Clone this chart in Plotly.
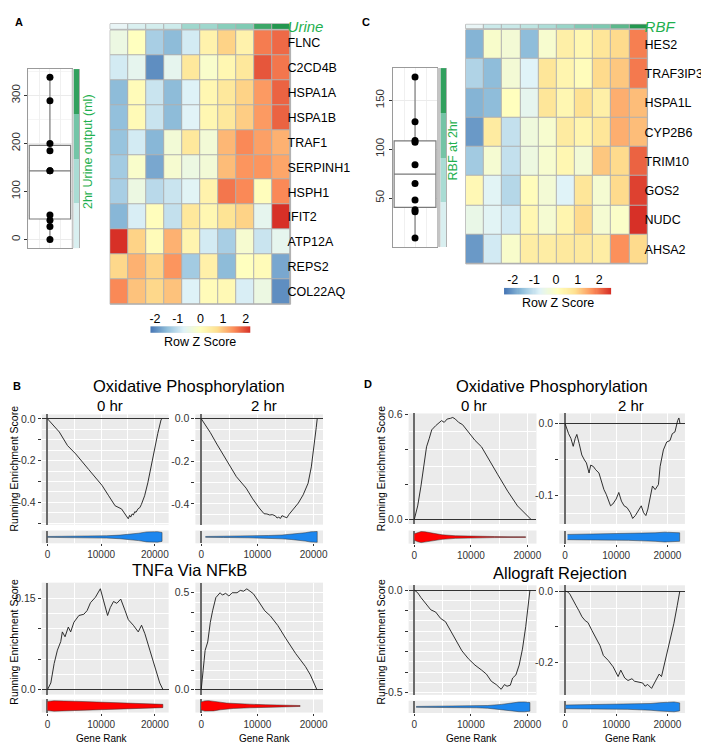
import numpy as np
import plotly.graph_objects as go

W, H = 709, 743
FONT = "Liberation Sans, Arial, sans-serif"

# ---- A: urine heatmap (rows = genes, cols = samples sorted by urine output) ----
genes_a = ["FLNC", "C2CD4B", "HSPA1A", "HSPA1B", "TRAF1", "SERPINH1",
           "HSPH1", "IFIT2", "ATP12A", "REPS2", "COL22AQ"]
z_a = [
    [-0.45, 0.0, -1.25, -1.5, -0.85, 0.3, 0.85, 0.3, 1.6, 1.75],
    [-0.85, -0.6, -1.95, -0.6, 0.55, -0.15, 0.2, 0.55, 1.9, 1.65],
    [-1.5, 0.1, -0.95, -1.5, -0.75, 0.2, 0.55, 0.85, 1.35, 1.8],
    [-1.45, 0.12, -0.95, -1.5, -0.72, 0.2, 0.55, 0.9, 1.35, 1.8],
    [-1.4, -0.85, -1.55, -0.3, 0.55, -0.3, 1.1, 1.5, 1.3, 1.15],
    [-1.3, -0.15, -1.7, -0.22, -0.45, -0.3, 1.05, 1.4, 1.4, 1.25],
    [-1.25, -0.45, -1.1, -0.95, -0.7, 0.3, 1.65, 1.5, 0.05, 1.5],
    [-1.55, -0.8, 0.05, -1.0, 0.55, 0.2, 0.65, 0.85, -0.6, 2.2],
    [2.2, 0.85, 0.1, 1.15, 0.25, -0.85, -1.25, -0.22, -0.95, -0.6],
    [0.8, 1.15, 0.85, 1.4, -1.3, 0.35, -1.5, 0.0, 0.1, -1.7],
    [1.5, 1.0, 0.8, 1.0, -0.75, 0.1, 0.15, -0.8, -0.45, -1.95],
]
urine_ml = [0, 27, 40, 51, 143, 143, 185, 200, 289, 338]
urine_ticks = [0, 100, 200, 300]

# ---- C: RBF heatmap ----
genes_c = ["HES2", "TRAF3IP3", "HSPA1L", "CYP2B6", "TRIM10", "GOS2", "NUDC", "AHSA2"]
z_c = [
    [-1.7, -0.1, -0.25, -1.6, -0.15, 0.5, 0.3, 0.75, 0.95, 1.85],
    [-1.25, -1.6, -0.25, -0.75, 0.75, 0.35, 0.15, 0.95, 1.15, 1.9],
    [-1.7, -1.6, 0.1, -0.6, 0.75, 0.3, 0.85, 0.5, 1.4, 1.25],
    [-2.0, 0.6, -1.05, -0.35, -0.15, 0.6, 0.35, 0.75, 1.4, 1.25],
    [-1.4, -0.2, -1.05, -0.4, -0.15, 0.3, -0.25, 1.15, 0.95, 2.1],
    [0.25, -0.7, -1.2, 0.15, -0.25, -0.75, 0.75, -0.2, 0.95, 2.4],
    [-0.5, -0.7, -0.9, 0.3, -0.2, 0.35, 0.95, -0.2, -0.05, 2.55],
    [-2.0, -0.9, -0.1, 0.55, 0.55, 0.65, 0.65, 0.55, 1.7, 0.95],
]
rbf = [9, 36, 38, 48, 65, 84, 107, 109, 128, 174]
rbf_ticks = [50, 100, 150]
zscore_ticks = [-2, -1, 0, 1, 2]
zscore_labels = ["-2", "-1", "0", "1", "2"]

# ---- B: GSEA running enrichment scores ----
b_ox0_rank = [0, 2200, 3730, 5260, 7700, 10150, 11400, 12600, 13800, 14400, 14700, 15050, 15300, 15500,
              15780, 16000, 16270, 16500, 16880, 17200, 17490, 18100, 18700, 19330, 19940, 20550, 21160, 21350]
b_ox0_es = [0, -0.063, -0.128, -0.168, -0.243, -0.318, -0.368, -0.416, -0.431, -0.455, -0.47, -0.478, -0.462, -0.47,
            -0.455, -0.46, -0.444, -0.447, -0.43, -0.425, -0.41, -0.368, -0.306, -0.227, -0.133, -0.07, -0.005, 0]
b_ox2_rank = [0, 1620, 2780, 4520, 6260, 8000, 9160, 10320, 11190, 11700, 12200, 12640, 13200, 13500,
              13800, 14100, 14380, 14800, 15250, 15600, 16120, 17280, 18150, 19020, 19600, 20180, 20470, 20650]
b_ox2_es = [0, -0.065, -0.119, -0.199, -0.272, -0.326, -0.376, -0.419, -0.446, -0.447, -0.452, -0.45, -0.456, -0.466,
            -0.462, -0.468, -0.455, -0.46, -0.465, -0.45, -0.434, -0.396, -0.357, -0.303, -0.226, -0.119, -0.042, 0]
b_tnf0_rank = [0, 620, 1240, 1850, 2470, 2770, 3270, 3880, 4320, 4930, 5850, 6770, 7380, 8010, 8930, 9850,
               10460, 11200, 11700, 12300, 12920, 13650, 14460, 15070, 15990, 16910, 17530, 18150, 19070, 20000, 20920, 21530]
b_tnf0_es = [0, 0.011, 0.043, 0.065, 0.079, 0.095, 0.087, 0.103, 0.095, 0.111, 0.122, 0.124, 0.130, 0.143, 0.152, 0.166,
             0.146, 0.122, 0.135, 0.145, 0.142, 0.149, 0.130, 0.115, 0.106, 0.095, 0.106, 0.092, 0.065, 0.038, 0.011, 0]
b_tnf2_rank = [0, 290, 700, 1160, 1620, 2030, 2610, 3360, 3770, 4350, 4930, 5510, 6380, 6960, 7540, 8120,
               8700, 9280, 10150, 11310, 12300, 13630, 15080, 16820, 18560, 19430, 20590]
b_tnf2_es = [0, 0.102, 0.203, 0.246, 0.347, 0.407, 0.475, 0.5, 0.488, 0.497, 0.483, 0.5, 0.5, 0.512, 0.508, 0.52,
             0.505, 0.495, 0.458, 0.407, 0.381, 0.331, 0.263, 0.186, 0.119, 0.076, 0]

# ---- D: GSEA running enrichment scores ----
d_ox0_rank = [0, 580, 1160, 1740, 2150, 2610, 3070, 3770, 4350, 4810, 5280, 5800, 6380, 6790, 7250, 7830,
              8530, 9570, 10730, 11890, 13050, 14790, 16530, 18270, 20590]
d_ox0_es = [0, 0.075, 0.188, 0.309, 0.413, 0.459, 0.51, 0.534, 0.553, 0.563, 0.553, 0.572, 0.576, 0.581, 0.572, 0.553,
            0.54, 0.497, 0.45, 0.413, 0.347, 0.253, 0.159, 0.075, 0]
d_ox2_rank = [0, 390, 710, 1160, 1610, 2000, 2320, 2770, 3290, 3810, 4190, 4710, 5030, 5550, 6000, 6640,
              7160, 7610, 8060, 8580, 8900, 9350, 10000, 10510, 11030, 11550, 12130, 12770, 13220, 13740,
              14380, 14900, 15350, 15800, 16190, 16640, 17090, 17610, 18250, 18580, 19220, 19870, 20510,
              20960, 21480, 22000, 22250, 22450]
d_ox2_es = [0, -0.010, -0.0145, -0.021, -0.032, -0.021, -0.0155, -0.028, -0.044, -0.051, -0.055, -0.069, -0.058,
            -0.060, -0.0645, -0.069, -0.083, -0.092, -0.0985, -0.110, -0.1145, -0.112, -0.105, -0.096, -0.108,
            -0.1145, -0.117, -0.124, -0.132, -0.128, -0.121, -0.1145, -0.124, -0.128, -0.119, -0.105, -0.087,
            -0.092, -0.085, -0.060, -0.037, -0.026, -0.024, -0.0145, -0.012, 0.0036, 0.0073, 0]
d_allo0_rank = [0, 580, 1160, 2030, 2900, 3770, 4640, 5510, 6380, 7250, 8410, 9570, 10730, 11890, 12760, 13630,
                14500, 15370, 15950, 16410, 16990, 17400, 17980, 18560, 19140, 19720, 20130, 20470]
d_allo0_es = [0, -0.0126, -0.036, -0.068, -0.096, -0.107, -0.138, -0.154, -0.197, -0.241, -0.296, -0.335, -0.366,
              -0.39, -0.41, -0.445, -0.461, -0.484, -0.461, -0.469, -0.464, -0.429, -0.414, -0.366, -0.288,
              -0.178, -0.075, 0]
d_allo2_rank = [0, 450, 900, 1280, 1730, 2180, 2690, 3330, 3970, 4490, 5260, 5900, 6860, 7500, 8460, 9420,
                10060, 10380, 10900, 11670, 12310, 13080, 13590, 14360, 15190, 15640, 16150, 16920, 17440,
                17950, 18400, 18850, 19360, 20000, 20640, 21280, 21920, 22430]
d_allo2_es = [0, -0.002, -0.007, -0.018, -0.027, -0.041, -0.054, -0.072, -0.083, -0.088, -0.110, -0.126, -0.153,
              -0.180, -0.194, -0.212, -0.232, -0.239, -0.221, -0.243, -0.250, -0.245, -0.252, -0.254, -0.257,
              -0.266, -0.261, -0.272, -0.257, -0.243, -0.232, -0.239, -0.207, -0.171, -0.135, -0.090, -0.041, 0]

# ---- violin profiles of gene-set ranks (rank, relative half width) ----
b_ox0_vx = [0, 4000, 8000, 11000, 13500, 15500, 17000, 18500, 19500, 20500, 21350]
b_ox0_vw = [0.07, 0.08, 0.12, 0.18, 0.28, 0.42, 0.58, 0.78, 0.85, 0.82, 0.7]
b_ox2_vx = [750, 4000, 8500, 12000, 14400, 16000, 17300, 18500, 19500, 20200, 20650]
b_ox2_vw = [0.07, 0.09, 0.14, 0.22, 0.3, 0.4, 0.5, 0.65, 0.8, 0.85, 0.85]
b_tnf0_vx = [0, 1200, 5200, 11400, 17500, 21500]
b_tnf0_vw = [0.7, 0.8, 0.72, 0.57, 0.38, 0.25]
b_tnf2_vx = [0, 600, 1300, 2200, 3400, 4500, 5700, 8600, 11500, 14400, 17600]
b_tnf2_vw = [0.6, 0.78, 0.82, 0.75, 0.58, 0.45, 0.38, 0.28, 0.19, 0.12, 0.07]
d_ox0_vx = [0, 600, 1200, 1900, 3200, 4900, 7250, 10700, 14200, 19700]
d_ox0_vw = [0.5, 0.72, 0.85, 0.8, 0.6, 0.35, 0.2, 0.12, 0.08, 0.05]
d_ox2_vx = [500, 6000, 12400, 15500, 17600, 19500, 20500, 21500, 22400]
d_ox2_vw = [0.4, 0.45, 0.5, 0.57, 0.65, 0.75, 0.75, 0.7, 0.65]
d_allo0_vx = [300, 7000, 11000, 13000, 15400, 17100, 18500, 19500, 20470]
d_allo0_vw = [0.07, 0.1, 0.15, 0.22, 0.4, 0.65, 0.78, 0.8, 0.7]
d_allo2_vx = [130, 5900, 12300, 15000, 16800, 18500, 20000, 21300, 22400]
d_allo2_vw = [0.3, 0.35, 0.4, 0.47, 0.55, 0.68, 0.78, 0.8, 0.65]

rank_ticks = [0, 10000, 20000]
rank_labels = ["0", "10000", "20000"]
b_ox_yt, b_ox_yl = [-0.5, -0.4, -0.3, -0.2, -0.1, 0.0], ["", "-0.4", "", "-0.2", "", "0.0"]
b_tnf0_yt, b_tnf0_yl = [0.0, 0.05, 0.10, 0.15], ["0.0", "", "", "0.15"]
b_tnf2_yt, b_tnf2_yl = [0.0, 0.1, 0.2, 0.3, 0.4, 0.5], ["0.0", "", "", "", "", "0.5"]
d_ox0_yt, d_ox0_yl = [0.0, 0.2, 0.4, 0.6], ["0.0", "", "", "0.6"]
d_ox2_yt, d_ox2_yl = [-0.1, -0.05, 0.0], ["-0.1", "", "0.0"]
d_allo0_yt, d_allo0_yl = [-0.5, -0.4, -0.3, -0.2, -0.1, 0.0], ["-0.5", "", "", "", "", "0.0"]
d_allo2_yt, d_allo2_yl = [-0.2, -0.1, 0.0], ["-0.2", "", "0.0"]

# ---- colours ----
RDYLBU = [[i / 6, c] for i, c in enumerate(
    ["#4575B4", "#91BFDB", "#E0F3F8", "#FFFFBF", "#FEE090", "#FC8D59", "#D73027"])]
GREENS = [[0, "#E9F5F6"], [0.15, "#CDEBEB"], [0.4, "#A3D9D0"], [0.6, "#7FCAB3"],
          [0.8, "#45AD72"], [1, "#23974F"]]
GREEN_TXT = "#1FB04F"
BORDER = "#B0B0B0"
BLUE, RED = "#1C86EE", "#FF0000"

fig = go.Figure()
layout = {}
shapes = []
annotations = []


def nm(n, k):
    return k if n == 1 else f"{k}{n}"


def refs(n):
    return dict(xaxis=nm(n, "x"), yaxis=nm(n, "y"))


def set_axes(n, xpx, ypx, xa, ya):
    xa = dict(xa)
    ya = dict(ya)
    xa.update(domain=[xpx[0] / W, xpx[1] / W], anchor=nm(n, "y"))
    ya.update(domain=[1 - ypx[1] / H, 1 - ypx[0] / H], anchor=nm(n, "x"))
    layout["xaxis" if n == 1 else f"xaxis{n}"] = xa
    layout["yaxis" if n == 1 else f"yaxis{n}"] = ya


def panel_bg(n, color, line=None):
    shapes.append(dict(type="rect", xref=f"{nm(n, 'x')} domain", yref=f"{nm(n, 'y')} domain",
                       x0=0, x1=1, y0=0, y1=1, fillcolor=color, layer="below",
                       line=dict(width=1 if line else 0, color=line or color)))


def note(text, x, y, size, color="black", angle=0):
    annotations.append(dict(text=text, x=x / W, y=1 - y / H, xref="paper", yref="paper",
                            showarrow=False, textangle=angle, xanchor="center", yanchor="middle",
                            font=dict(size=size, color=color, family=FONT)))


HIDE = dict(showticklabels=False, showgrid=False, zeroline=False, ticks="")


# ---- heatmap block: heatmap, annotation bar, z-score legend ----
def heat_block(n, genes, z, ann, ann_name, zlo, zhi, xpx, ypx, bar_y, leg_x, leg_y, title_y):
    ncol = len(z[0])
    fig.add_trace(go.Heatmap(z=z, y=genes, x=list(range(ncol)), colorscale=RDYLBU, zmin=zlo, zmax=zhi,
                             xgap=1, ygap=1, showscale=False, hoverinfo="skip", **refs(n)))
    set_axes(n, xpx, ypx, dict(HIDE, range=[-0.5, ncol - 0.5]),
             dict(autorange="reversed", side="right", type="category", showgrid=False, zeroline=False,
                  ticks="", ticklabelstandoff=-4, tickfont=dict(size=12.5, color="black")))
    panel_bg(n, BORDER, BORDER)

    fig.add_trace(go.Heatmap(z=[ann], y=[f"<i>{ann_name}</i>"], x=list(range(ncol)), colorscale=GREENS,
                             zmin=min(ann), zmax=max(ann), xgap=1, showscale=False, hoverinfo="skip",
                             **refs(n + 1)))
    set_axes(n + 1, xpx, bar_y, dict(HIDE, range=[-0.5, ncol - 0.5]),
             dict(side="right", type="category", showgrid=False, zeroline=False, ticks="",
                  ticklabelstandoff=-4, tickfont=dict(size=15, color=GREEN_TXT)))
    panel_bg(n + 1, BORDER, BORDER)

    grad = np.linspace(zlo, zhi, 101)
    fig.add_trace(go.Heatmap(z=[grad], x=grad, y=[0], colorscale=RDYLBU, zmin=zlo, zmax=zhi,
                             showscale=False, hoverinfo="skip", **refs(n + 2)))
    set_axes(n + 2, leg_x, leg_y,
             dict(range=[zlo, zhi], side="top", tickvals=zscore_ticks, ticktext=zscore_labels, ticks="",
                  showgrid=False, zeroline=False, tickfont=dict(size=12.5, color="black")),
             dict(HIDE, range=[-0.5, 0.5]))
    note("Row Z Score", (leg_x[0] + leg_x[1]) / 2, title_y, 12.5)


# ---- box plot + side colour strip ----
def box_block(n, vals, xpx, ypx, yr, ytv, strip_x):
    q1, med, q3 = np.percentile(vals, [25, 50, 75])
    fig.add_trace(go.Box(x=[0], q1=[q1], median=[med], q3=[q3], lowerfence=[min(vals)],
                         upperfence=[max(vals)], width=0.95, whiskerwidth=0, fillcolor="white",
                         line=dict(color="#7a7a7a", width=1.2), hoverinfo="skip", **refs(n)))
    fig.add_trace(go.Scatter(x=[0] * len(vals), y=vals, mode="markers",
                             marker=dict(color="black", size=7), hoverinfo="skip", **refs(n)))
    set_axes(n, xpx, ypx,
             dict(range=[-0.5, 0.5], tickvals=[-0.25, 0, 0.25], showticklabels=False, ticks="",
                  gridcolor="#F0F0F0", zeroline=False, showline=True, mirror=True, linecolor="#9a9a9a"),
             dict(range=yr, tickvals=ytv, tickangle=-90, ticks="outside", ticklen=3, tickcolor="#333",
                  tickfont=dict(size=11.5, color="#333"), gridcolor="#EBEBEB", zeroline=False,
                  minor=dict(dtick=50, tick0=0, showgrid=True, gridcolor="#F5F5F5"),
                  showline=True, mirror=True, linecolor="#9a9a9a"))
    panel_bg(n, "white")

    edges = np.linspace(yr[0], yr[1], 5)
    mids = (edges[:-1] + edges[1:]) / 2
    fig.add_trace(go.Heatmap(z=[[m] for m in mids], y=mids, x=[0], colorscale=GREENS,
                             zmin=min(vals), zmax=max(vals), showscale=False, hoverinfo="skip",
                             **refs(n + 1)))
    set_axes(n + 1, strip_x, ypx, dict(HIDE, range=[-0.5, 0.5]),
             dict(HIDE, range=yr, showline=True, mirror=True, linecolor=BORDER))
    shapes.append(dict(type="rect", xref="paper", yref="paper", x0=xpx[1] / W, x1=strip_x[0] / W,
                       y0=1 - ypx[1] / H, y1=1 - ypx[0] / H, fillcolor="#C4C4C4", line=dict(width=0)))


# ---- GSEA panel: running score + violin strip ----
def gsea(n, rank, es, vx, vw, fill, xr, yr, ytv, ytt, xpx, ypx, spx):
    fig.add_trace(go.Scatter(x=rank, y=es, mode="lines", line=dict(color="#1a1a1a", width=0.9),
                             hoverinfo="skip", **refs(n)))
    fig.add_trace(go.Scatter(x=vx + vx[::-1], y=vw + [-w for w in vw[::-1]], mode="lines",
                             fill="toself", fillcolor=fill, line=dict(color="#333", width=0.5),
                             hoverinfo="skip", **refs(n + 1)))
    step = abs(ytv[1] - ytv[0])
    xgrid = dict(range=xr, tickvals=rank_ticks, ticktext=rank_labels, gridcolor="white", gridwidth=1,
                 minor=dict(dtick=5000, tick0=0, showgrid=True, gridcolor="white", gridwidth=0.5),
                 zeroline=True, zerolinecolor="#6b6b6b", zerolinewidth=1.6)
    set_axes(n, xpx, ypx, dict(xgrid, showticklabels=False, ticks=""),
             dict(range=yr, tickvals=ytv, ticktext=ytt, ticks="outside", ticklen=3, tickcolor="#333",
                  tickfont=dict(size=10.5, color="#333"), gridcolor="white", gridwidth=1,
                  minor=dict(dtick=step / 2, tick0=0, showgrid=True, gridcolor="white", gridwidth=0.5),
                  zeroline=True, zerolinecolor="#333", zerolinewidth=1))
    set_axes(n + 1, xpx, spx,
             dict(xgrid, ticks="outside", ticklen=2, tickcolor="#333",
                  tickfont=dict(size=10, color="#333")),
             dict(HIDE, range=[-1, 1]))


# A
box_block(1, urine_ml, (19.3, 63.3), (56, 238), [-18, 355], urine_ticks, (65, 71))
heat_block(3, genes_a, z_a, urine_ml, "Urine", -2.2, 2.2, (102, 284), (16.5, 295), (10, 15.5),
           (142.7, 243.3), (317.3, 324), 333)
note("2hr Urine output (ml)", 79, 140, 12.5, GREEN_TXT, -90)

# C
box_block(6, rbf, (387.3, 431.7), (55, 236.7), [0, 183], rbf_ticks, (435, 441))
heat_block(8, genes_c, z_c, rbf, "RBF", -2.4, 2.55, (460.7, 644), (16, 254), (10.5, 15),
           (499.3, 607.3), (278.3, 285), 293.5)
note("RBF at 2hr", 447.5, 139, 12.5, GREEN_TXT, -90)

# B
gsea(11, b_ox0_rank, b_ox0_es, b_ox0_vx, b_ox0_vw, BLUE, [-1075, 22575], [-0.506, 0.021],
     b_ox_yt, b_ox_yl, (33, 161), (407, 519), (525, 538))
gsea(13, b_ox2_rank, b_ox2_es, b_ox2_vx, b_ox2_vw, BLUE, [-1030, 21680], [-0.497, 0.02],
     b_ox_yt, b_ox_yl, (188, 316.7), (407, 519), (525, 538))
gsea(15, b_tnf0_rank, b_tnf0_es, b_tnf0_vx, b_tnf0_vw, RED, [-1075, 22575], [-0.008, 0.176],
     b_tnf0_yt, b_tnf0_yl, (33, 161), (578, 691.7), (696.7, 710))
gsea(17, b_tnf2_rank, b_tnf2_es, b_tnf2_vx, b_tnf2_vw, RED, [-1030, 21680], [-0.025, 0.552],
     b_tnf2_yt, b_tnf2_yl, (188, 316.7), (578, 691.7), (696.7, 710))

# D
gsea(19, d_ox0_rank, d_ox0_es, d_ox0_vx, d_ox0_vw, RED, [-1030, 21630], [-0.028, 0.604],
     d_ox0_yt, d_ox0_yl, (403, 532), (406, 518.3), (525, 538.3))
gsea(21, d_ox2_rank, d_ox2_es, d_ox2_vx, d_ox2_vw, BLUE, [-1104, 23427], [-0.1396, 0.0136],
     d_ox2_yt, d_ox2_yl, (555, 681.7), (406, 518.3), (525, 538.3))
gsea(23, d_allo0_rank, d_allo0_es, d_allo0_vx, d_allo0_vw, BLUE, [-1030, 21630], [-0.511, 0.0236],
     d_allo0_yt, d_allo0_yl, (403, 532), (580.7, 692), (698, 710.5))
gsea(25, d_allo2_rank, d_allo2_es, d_allo2_vx, d_allo2_vw, BLUE, [-1104, 23427], [-0.29, 0.016],
     d_allo2_yt, d_allo2_yl, (555, 681.7), (580.7, 692), (698, 710.5))

# ---- text ----
for letter, x, y in [("A", 10, 8), ("C", 360, 8), ("B", 8, 378), ("D", 362, 376)]:
    note(f"<b>{letter}</b>", x, y, 11)
note("Oxidative Phosphorylation", 182, 378, 16.5)
note("Oxidative Phosphorylation", 547.5, 378, 16.5)
note("TNFa Via NFkB", 182, 565, 16.5)
note("Allograft Rejection", 556, 568, 16.5)
for txt, x in [("0 hr", 102), ("2 hr", 257), ("0 hr", 469), ("2 hr", 627)]:
    note(txt, x, 398, 15)
for x, y in [(5, 462), (5, 638), (375, 462), (375, 638)]:
    note("Running Enrichment Score", x, y, 10.5, angle=-90)
for x in [94, 258, 467, 627]:
    note("Gene Rank", x, 736, 10)

fig.update_layout(width=W, height=H, margin=dict(l=0, r=0, t=0, b=0), paper_bgcolor="white",
                  plot_bgcolor="#EBEBEB", showlegend=False, font=dict(family=FONT, color="black"),
                  shapes=shapes, annotations=annotations, **layout)

fig.write_html("out.html")
